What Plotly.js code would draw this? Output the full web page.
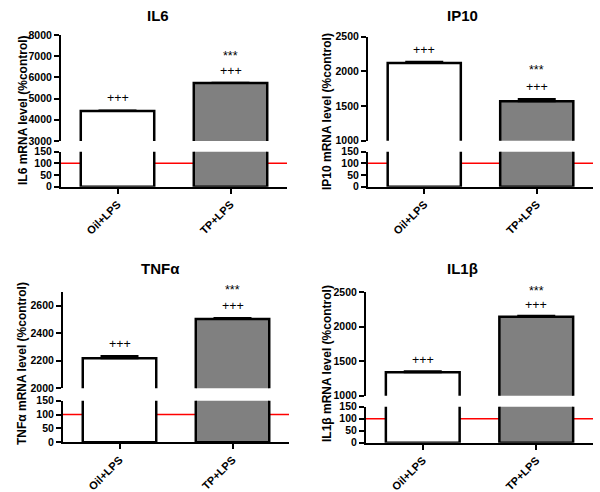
<!DOCTYPE html>
<html>
<head>
<meta charset="utf-8">
<script src="https://cdn.plot.ly/plotly-3.0.1.min.js"></script>
<style>html,body{margin:0;padding:0;background:#fff;}#chart{width:600px;height:492px;}</style>
</head>
<body>
<div id="chart"></div>
<script>
// ---- data ----
const categories = ['Oil+LPS', 'TP+LPS'];
const panelTitles = ['IL6', 'IP10', 'TNFα', 'IL1β'];
const yTitles = ['IL6 mRNA level (%control)', 'IP10 mRNA level (%control)', 'TNFα mRNA level (%control)', 'IL1β mRNA level (%control)'];
const il6Values = [4420, 5730];
const il6Errors = [20, 15];
const ip10Values = [2120, 1570];
const ip10Errors = [20, 30];
const tnfValues = [2218, 2503];
const tnfErrors = [17, 7];
const il1bValues = [1340, 2145];
const il1bErrors = [15, 15];
const plusLabels = ['+++', '+++'];
const starLabels = ['', '***'];
const controlLevel = 100;
const lowerTicks = [0, 50, 100, 150];
const il6UpperTicks = [3000, 4000, 5000, 6000, 7000, 8000];
const ip10UpperTicks = [1000, 1500, 2000, 2500];
const tnfUpperTicks = [2000, 2200, 2400, 2600];
const il1bUpperTicks = [1000, 1500, 2000, 2500];
const upperRanges = [[3000, 8000], [1000, 2500], [2000, 2700], [1000, 2500]];
const lowerRange = [0, 150];

const values = [il6Values, ip10Values, tnfValues, il1bValues];
const errors = [il6Errors, ip10Errors, tnfErrors, il1bErrors];
const upperTicks = [il6UpperTicks, ip10UpperTicks, tnfUpperTicks, il1bUpperTicks];

// ---- layout geometry (pixels) ----
const W = 600, H = 492;
const geom = [
  {x: [61, 287], up: [35, 141], low: [151.7, 186.7], title: [158, 15], ytitle: [23, 110], plusShift: 12, starShift: 27},
  {x: [368, 593], up: [36.7, 140.7], low: [151.7, 186.7], title: [462, 15], ytitle: [327, 112], plusShift: 12, starShift: 29},
  {x: [63, 289], up: [291.9, 388.3], low: [400.7, 442.3], title: [160, 268], ytitle: [22, 364], plusShift: 12, starShift: 28},
  {x: [366, 593], up: [292.3, 395.7], low: [406.7, 442.7], title: [463, 268], ytitle: [327, 364], plusShift: 11, starShift: 25}
];
const px = v => v / W;
const py = v => 1 - v / H;

const FONT = 'Liberation Sans, Arial, sans-serif';
const barColors = ['#ffffff', '#808080'];

const traces = [];
const layout = {
  width: W, height: H,
  margin: {l: 0, r: 0, t: 0, b: 0},
  paper_bgcolor: '#fff', plot_bgcolor: 'rgba(0,0,0,0)',
  showlegend: false,
  font: {family: FONT, color: '#000'},
  annotations: [], shapes: [],
  bargap: 0
};

for (let i = 0; i < 4; i++) {
  const g = geom[i];
  const xa = 'x' + (i + 1);
  const yl = 'y' + (2 * i + 1);
  const yu = 'y' + (2 * i + 2);
  const xKey = 'xaxis' + (i + 1);
  const ylKey = 'yaxis' + (2 * i + 1);
  const yuKey = 'yaxis' + (2 * i + 2);

  const barBase = {
    type: 'bar', x: categories, y: values[i],
    width: 0.65,
    marker: {color: barColors, line: {color: '#000', width: 2.5}},
    hoverinfo: 'skip'
  };
  traces.push(Object.assign({}, barBase, {xaxis: xa, yaxis: yl}));
  traces.push(Object.assign({}, barBase, {
    xaxis: xa, yaxis: yu,
    error_y: {type: 'data', array: errors[i], arrayminus: [0, 0], symmetric: false, visible: true,
              color: '#000', thickness: 2, width: 19}
  }));

  layout[xKey] = {
    domain: [px(g.x[0]), px(g.x[1])], anchor: yl,
    type: 'category', range: [-0.5, 1.5],
    showline: true, linecolor: '#000', linewidth: 2,
    ticks: 'outside', ticklen: 5, tickwidth: 2, tickcolor: '#000',
    tickangle: -45, tickfont: {family: FONT, size: 11, weight: 'bold', color: '#000'},
    showgrid: false, zeroline: false, fixedrange: true
  };
  layout[ylKey] = {
    domain: [py(g.low[1]), py(g.low[0])], anchor: xa,
    range: lowerRange, tickvals: lowerTicks,
    showline: true, linecolor: '#000', linewidth: 2,
    ticks: 'outside', ticklen: 5, tickwidth: 2, tickcolor: '#000',
    tickfont: {family: FONT, size: 10.5, weight: 'bold', color: '#000'},
    showgrid: false, zeroline: false, fixedrange: true
  };
  layout[yuKey] = {
    domain: [py(g.up[1]), py(g.up[0])], anchor: xa,
    range: upperRanges[i], tickvals: upperTicks[i],
    showline: true, linecolor: '#000', linewidth: 2,
    ticks: 'outside', ticklen: 5, tickwidth: 2, tickcolor: '#000',
    tickfont: {family: FONT, size: 10.5, weight: 'bold', color: '#000'},
    showgrid: false, zeroline: false, fixedrange: true
  };

  // control reference line
  layout.shapes.push({
    type: 'line', xref: xa + ' domain', yref: yl,
    x0: 0, x1: 1, y0: controlLevel, y1: controlLevel,
    line: {color: '#ff0000', width: 1.5}, layer: 'below'
  });

  // significance marks
  for (let j = 0; j < categories.length; j++) {
    const top = values[i][j] + errors[i][j];
    if (plusLabels[j]) layout.annotations.push({
      xref: xa, yref: yu, x: categories[j], y: top, text: plusLabels[j],
      showarrow: false, yanchor: 'middle', yshift: g.plusShift,
      font: {family: FONT, size: 12.5, color: '#000'}
    });
    if (starLabels[j]) layout.annotations.push({
      xref: xa, yref: yu, x: categories[j], y: top, text: starLabels[j],
      showarrow: false, yanchor: 'middle', yshift: g.starShift,
      font: {family: FONT, size: 12.5, color: '#000'}
    });
  }

  // panel title
  layout.annotations.push({
    xref: 'paper', yref: 'paper', x: px(g.title[0]), y: py(g.title[1]),
    xanchor: 'center', yanchor: 'middle', showarrow: false,
    text: panelTitles[i], font: {family: FONT, size: 15, weight: 'bold', color: '#000'}
  });
  // y axis title
  layout.annotations.push({
    xref: 'paper', yref: 'paper', x: px(g.ytitle[0]), y: py(g.ytitle[1]),
    xanchor: 'center', yanchor: 'middle', showarrow: false, textangle: -90,
    text: yTitles[i], font: {family: FONT, size: 12, weight: 'bold', color: '#000'}
  });
}

Plotly.newPlot('chart', traces, layout, {staticPlot: true, displayModeBar: false});
</script>
</body>
</html>
